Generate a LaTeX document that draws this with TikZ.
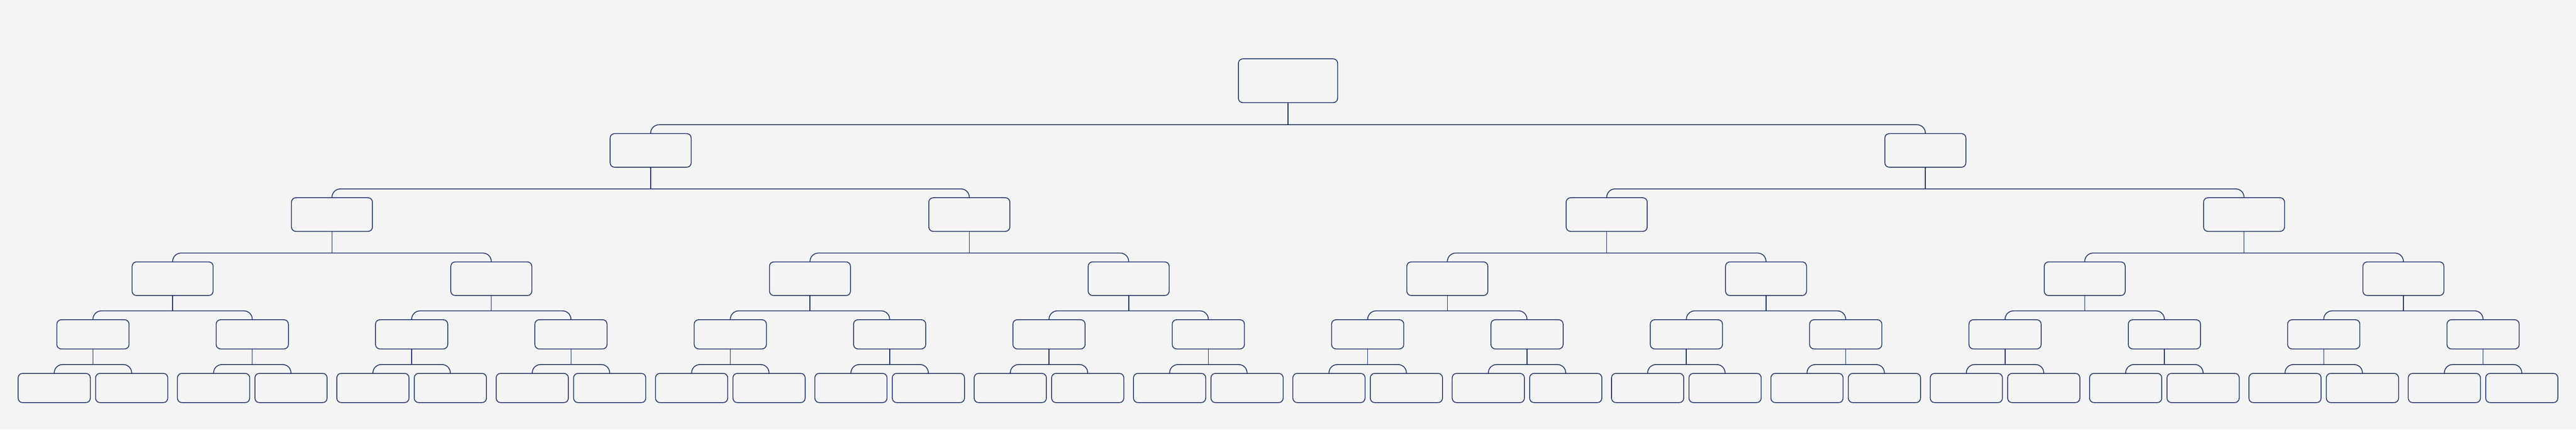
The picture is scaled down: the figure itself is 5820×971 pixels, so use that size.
\documentclass[tikz,border=0pt]{standalone}
\usepackage{tikz}
\usepackage{xcolor}
\usetikzlibrary{positioning,calc}
\definecolor{navyline}{RGB}{19, 43, 102}
\definecolor{paper}{RGB}{244, 244, 244}

\begin{document}
\begin{tikzpicture}[x=0.01cm,y=-0.01cm,
        box/.style={draw=navyline,line width=0.5pt,rounded corners=0.1cm,inner sep=0pt,outer sep=0pt,minimum width=1.83cm,minimum height=0.76cm},
        small/.style={box,minimum width=1.63cm,minimum height=0.66cm},
        link/.style={navyline,line width=0.5pt},
        bracket/.style={link,rounded corners=0.19cm}]
        % Background
        \fill[paper] (0,0) rectangle (5820,971);
        \useasboundingbox (0,0) rectangle (5820,971);

        % Boxes
        \node[box,minimum width=2.24cm,minimum height=0.99cm] (n0-0) at (2910,182.5) {};
        \foreach \k in {0,1}
            \node[box] (n1-\k) at (1470+2880*\k,340) {};
        \foreach \k in {0,...,3}
            \node[box] (n2-\k) at (750+1440*\k,485) {};
        \foreach \k in {0,...,7}
            \node[box] (n3-\k) at (390+720*\k,630) {};
        \foreach \k in {0,...,15}
            \node[small] (n4-\k) at (210+360*\k,755.7) {};
        \foreach \k in {0,...,15} {
            \pgfmathtruncatemacro\a{2*\k}
            \pgfmathtruncatemacro\b{2*\k+1}
            \node[small] (n5-\a) at (122.5+360*\k,877) {};
            \node[small] (n5-\b) at (297.5+360*\k,877) {};
        }

        % Links
        \foreach \l [evaluate=\l as \m using int(\l+1), evaluate=\l as \last using int(2^\l-1)] in {0,...,4} {
            \foreach \k [evaluate=\k as \a using int(2*\k), evaluate=\k as \b using int(2*\k+1)] in {0,...,\last} {
                \path (n\m-\a.north) ++(0,-20) coordinate (j\l-\k);
                \draw[bracket] (n\m-\a.north) -- (j\l-\k) -| (n\m-\b.north);
                \draw[link] (n\l-\k.south) -- (n\l-\k.south |- j\l-\k);
            }
        }
    \end{tikzpicture}
\end{document}
